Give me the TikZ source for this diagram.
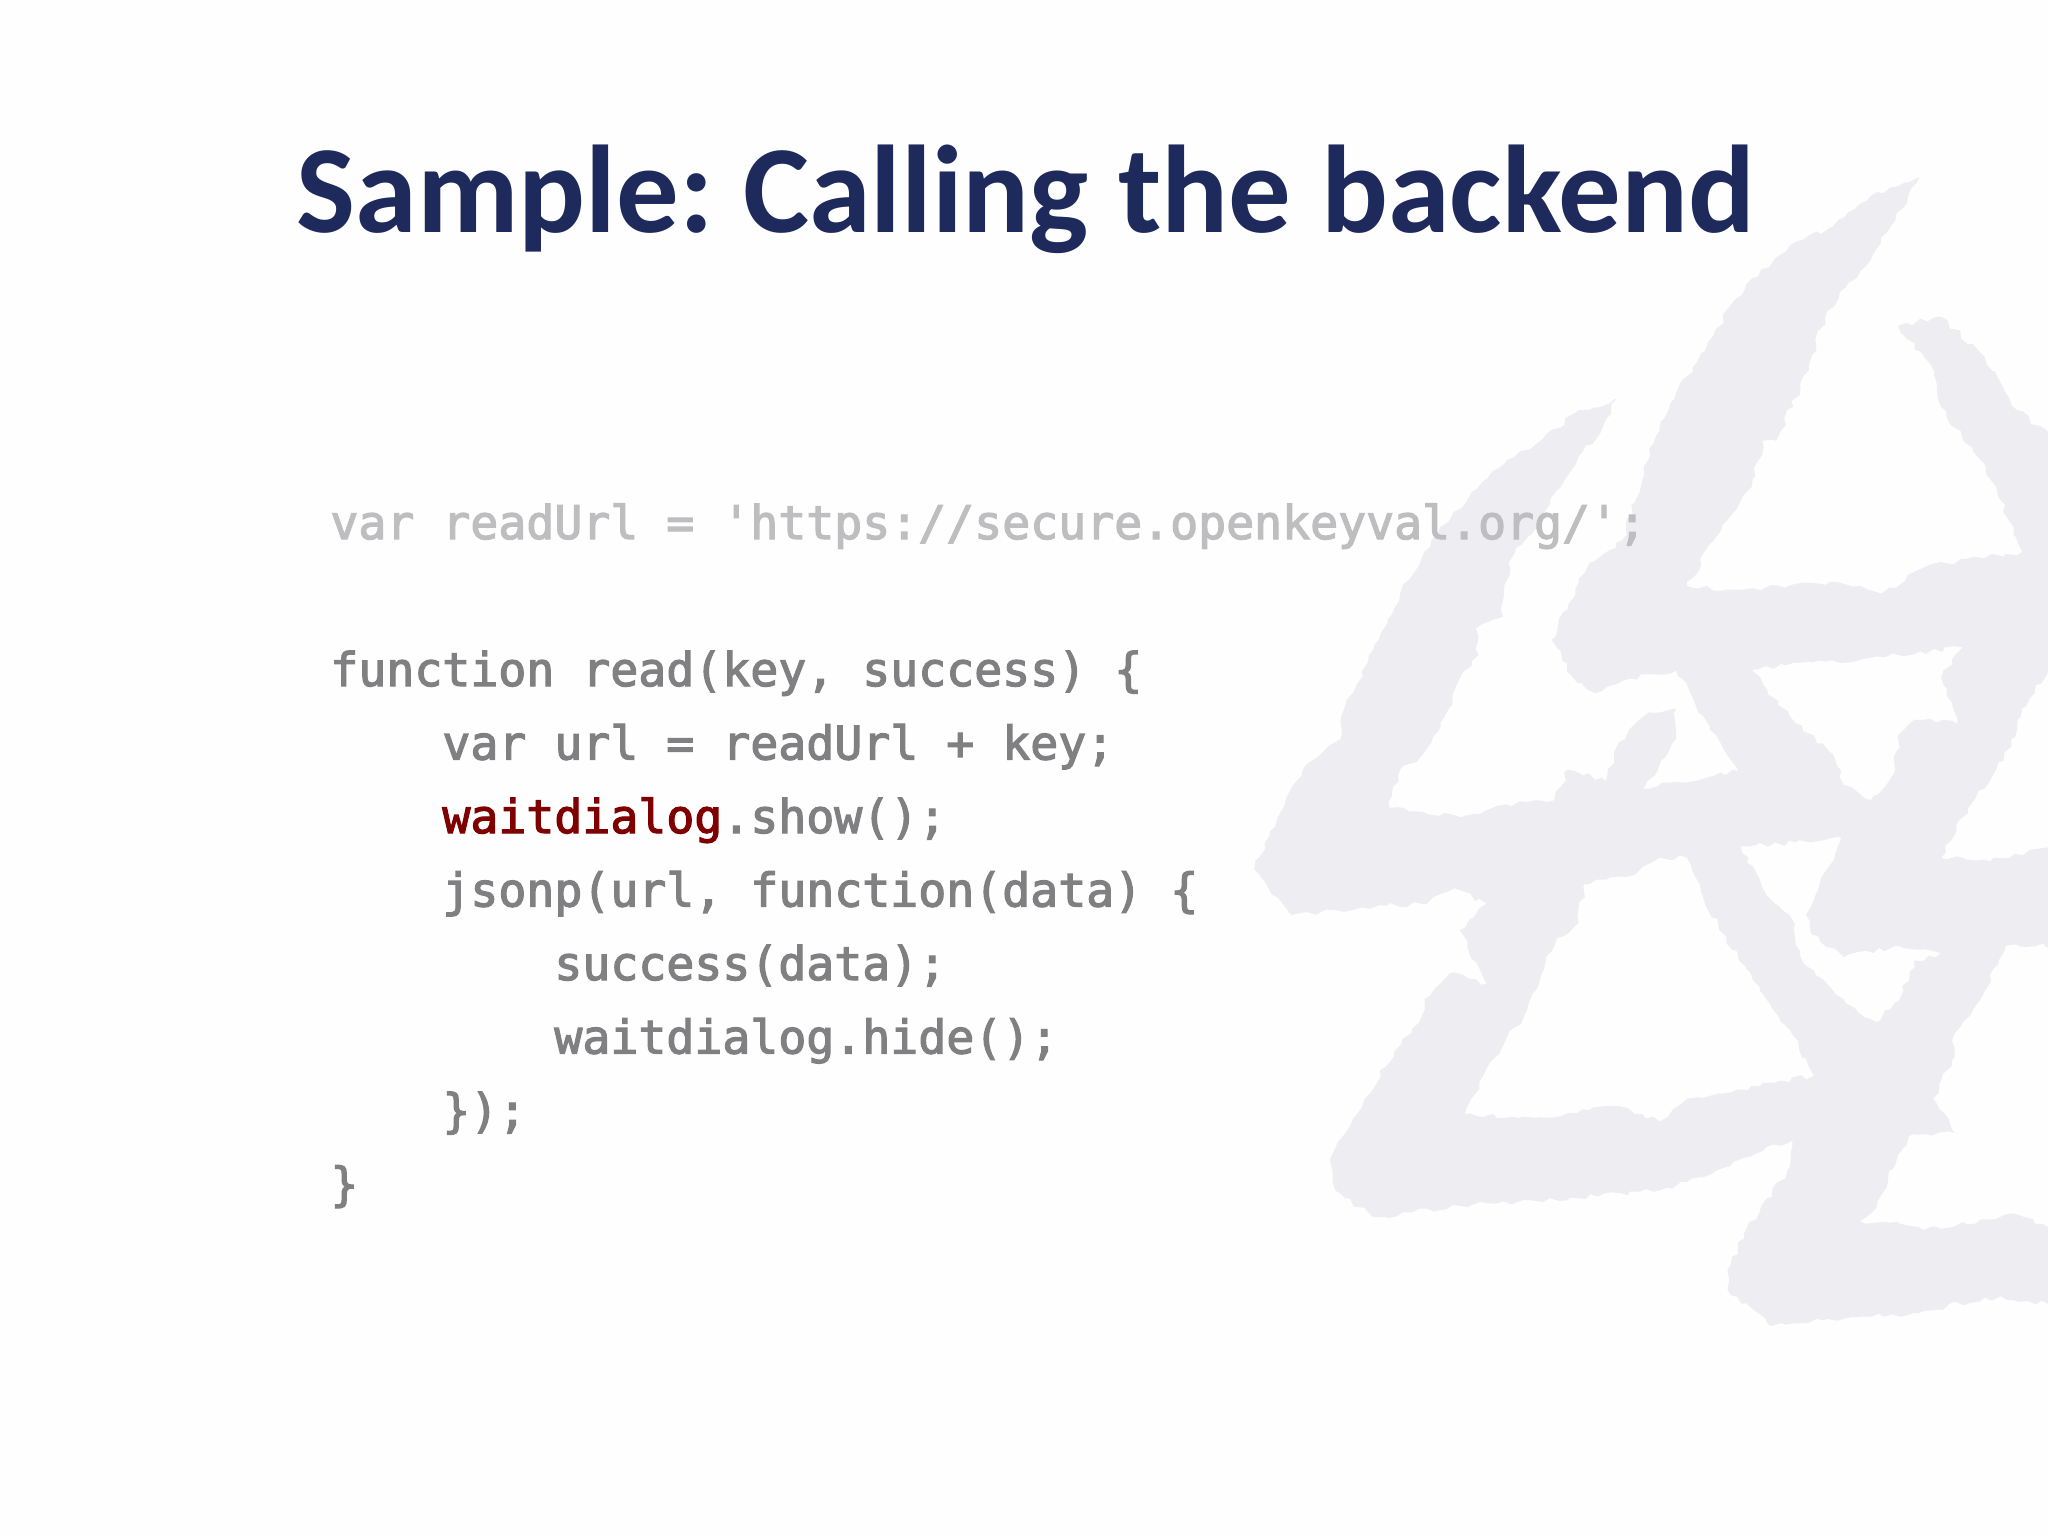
\documentclass[tikz,border=0pt]{standalone}
\usepackage{fontspec}
\usetikzlibrary{decorations.pathmorphing}
\setmainfont{Carlito}
\newfontfamily\codefont[FakeBold=2.6]{DejaVu Sans Mono}
\definecolor{pagebg}{HTML}{FEFEFE}
\definecolor{logoc}{HTML}{EEEDF1}
\definecolor{titlec}{HTML}{1F2A5C}
\definecolor{fadedc}{HTML}{BEBEC1}
\definecolor{codec}{HTML}{808083}
\definecolor{hotc}{HTML}{7F0000}
\tikzset{
  titletext/.style={anchor=base west,inner sep=0pt,text=titlec,font=\fontsize{62.4}{70}\selectfont\bfseries},
  codeline/.style={anchor=base west,inner sep=0pt,text=codec,font=\fontsize{23.25}{28}\codefont},
  logofill/.style={fill=logoc,even odd rule,decorate,decoration={random steps,segment length=3.5pt,amplitude=1.4pt}}
}
\begin{document}
\begin{tikzpicture}[x=0.5pt,y=-0.5pt]
\useasboundingbox (0,0) rectangle (2048,1536);
\fill[pagebg] (0,0) rectangle (2048,1536);
\begin{scope}
\clip (0,0) rectangle (2048,1536);
\pgfmathsetseed{7}
\begin{scope}[shift={(1200,150)},x=0.2705pt,y=-0.3825pt]
\fill[logofill]
 (1330,35)--(1250,130)--(1160,210)--(1110,310)--(1065,380)--(1040,380)--(1020,440)--(950,510)--(900,570)
 --(1000,575)--(1180,565)--(1260,580)--(1340,545)--(1520,525)--(1450,410)--(1380,350)--(1350,280)--(1290,230)
 --(1370,218)--(1450,270)--(1510,340)--(1620,400)
 --(1620,680)--(1568,680)--(1520,730)--(1500,780)--(1420,860)--(1370,925)--(1460,930)--(1620,900)
 --(1620,1040)--(1490,1040)--(1450,1100)--(1390,1165)--(1390,1190)--(1355,1240)--(1395,1285)--(1310,1290)
 --(1240,1390)--(1220,1400)--(1370,1410)--(1500,1390)--(1620,1420)--(1620,1510)--(1450,1500)--(1330,1520)
 --(1150,1530)--(1050,1535)--(975,1490)--(975,1465)--(1010,1410)--(1090,1330)--(1095,1295)--(1060,1300)
 --(970,1330)--(850,1360)--(700,1370)--(480,1380)--(320,1395)--(250,1360)--(240,1320)--(290,1260)--(340,1200)
 --(405,1140)--(415,1110)--(470,1075)--(530,1090)--(480,1020)--(530,985)--(470,965)--(420,985)--(300,990)
 --(170,1000)--(100,940)--(130,890)--(190,810)--(260,770)--(270,720)--(310,670)--(370,580)--(450,490)
 --(540,420)--(620,385)--(690,345)--(770,325)--(740,370)--(700,400)--(640,470)--(570,540)--(560,610)
 --(510,625)--(515,660)--(490,680)--(440,760)--(400,800)--(370,810)--(350,860)--(490,870)--(620,850)
 --(655,850)--(680,810)--(750,825)--(770,780)--(830,735)--(880,730)--(880,770)--(820,835)--(995,812)
 --(930,740)--(880,680)--(830,685)--(730,710)--(690,690)--(650,640)--(720,540)--(780,510)--(815,440)
 --(830,390)--(870,330)--(940,250)--(1010,175)--(1090,125)--(1170,100)--(1240,60)--cycle
 (1020,680)--(1130,670)--(1200,670)--(1290,660)--(1410,650)--(1370,690)--(1400,750)--(1320,745)--(1290,770)
 --(1285,810)--(1240,850)--(1190,830)--(1170,790)--(1090,740)--cycle
 (1000,910)--(1100,905)--(1185,900)--(1120,1000)--(1130,1025)--(1190,1055)--(1290,1040)--(1370,1050)
 --(1320,1060)--(1300,1100)--(1250,1140)--(1190,1110)--(1110,1055)--(1090,1000)--(1040,965)--cycle
 (900,925)--(960,1020)--(1010,1070)--(1090,1150)--(1135,1210)--(900,1240)--(850,1270)--(770,1250)--(640,1265)
 --(490,1260)--(530,1200)--(600,1130)--(630,1080)--(660,1030)--(700,1010)--(710,960)--(790,950)--(850,925)--cycle;
\end{scope}
\end{scope}
\node[titletext] (title) at (296,232) {\frenchspacing\spaceskip=14.8pt Sample: Calling the backend};
\node[codeline,text=fadedc] (l1) at (330,539) {var readUrl = 'https://secure.openkeyval.org/';};
\node[codeline] (l2) at (330,686) {function read(key, success) \{};
\node[codeline] (l3) at (442,759.5) {var url = readUrl + key;};
\node[codeline] (l4) at (442,833) {\textcolor{hotc}{waitdialog}.show();};
\node[codeline] (l5) at (442,906.5) {jsonp(url, function(data) \{};
\node[codeline] (l6) at (554,980) {success(data);};
\node[codeline] (l7) at (554,1053.5) {waitdialog.hide();};
\node[codeline] (l8) at (442,1127) {\});};
\node[codeline] (l9) at (330,1200.5) {\}};
\end{tikzpicture}
\end{document}
